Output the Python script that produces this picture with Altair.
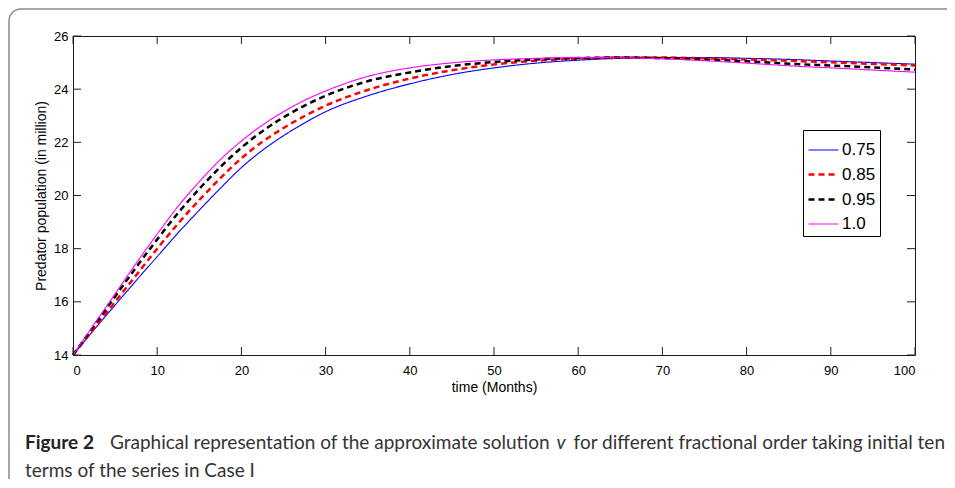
import altair as alt
import pandas as pd

# ---- data ----
t = [0, 2.5, 5, 7.5, 10, 12.5, 15, 17.5, 20, 22.5, 25, 27.5, 30, 35, 40, 45, 50,
     55, 60, 65, 70, 75, 80, 85, 90, 95, 100]
v_075 = [14, 14.95, 15.88, 16.8, 17.7, 18.6, 19.45, 20.27, 21.05, 21.7, 22.25, 22.73, 23.15,
         23.75, 24.2, 24.55, 24.8, 24.98, 25.09, 25.16, 25.19, 25.19, 25.16, 25.12, 25.06, 25.0, 24.94]
v_085 = [14, 15.0, 16.0, 17.0, 18.0, 18.95, 19.83, 20.65, 21.4, 22.02, 22.54, 22.99, 23.38,
         23.97, 24.4, 24.71, 24.93, 25.07, 25.15, 25.19, 25.19, 25.16, 25.12, 25.07, 25.01, 24.95, 24.89]
v_095 = [14, 15.1, 16.2, 17.3, 18.35, 19.35, 20.25, 21.07, 21.8, 22.42, 22.94, 23.38, 23.75,
         24.3, 24.63, 24.87, 25.02, 25.12, 25.17, 25.19, 25.17, 25.12, 25.05, 24.96, 24.89, 24.82, 24.74]
v_100 = [14, 15.15, 16.3, 17.45, 18.55, 19.6, 20.52, 21.35, 22.05, 22.65, 23.15, 23.58, 23.93,
         24.48, 24.8, 24.99, 25.1, 25.16, 25.19, 25.18, 25.14, 25.07, 24.98, 24.88, 24.8, 24.72, 24.64]

series = ["0.75", "0.85", "0.95", "1.0"]
colors = ["#0000ff", "#ff0000", "#000000", "#ff00ff"]
dashes = [[1, 0], [6, 4], [6, 4], [1, 0]]
widths = [1.1, 2.5, 2.5, 1.1]

x_ticks = [0, 10, 20, 30, 40, 50, 60, 70, 80, 90, 100]
y_ticks = [14, 16, 18, 20, 22, 24, 26]

x_title = "time (Months)"
y_title = "Predator population (in million)"
cap_bold = "Figure 2"
cap_a = "Graphical representation of the approximate solution"
cap_v = "v"
cap_b = "for different fractional order taking initial ten"
cap_2 = "terms of the series in Case I"

W, H = 842, 319

rows = []
for name, vals in zip(series, [v_075, v_085, v_095, v_100]):
    for tt, vv in zip(t, vals):
        rows.append({"t": tt, "v": vv, "s": name})
df = pd.DataFrame(rows)

xscale = alt.Scale(domain=[0, 100], nice=False, zero=False)
yscale = alt.Scale(domain=[14, 26], nice=False, zero=False)

lines = alt.Chart(df).mark_line(interpolate="monotone").encode(
    x=alt.X("t:Q", scale=xscale, title=x_title,
            axis=alt.Axis(values=x_ticks, format="d")),
    y=alt.Y("v:Q", scale=yscale, title=y_title,
            axis=alt.Axis(values=y_ticks, format="d")),
    color=alt.Color("s:N", scale=alt.Scale(domain=series, range=colors), title=None),
    strokeDash=alt.StrokeDash("s:N", scale=alt.Scale(domain=series, range=dashes), title=None),
    strokeWidth=alt.StrokeWidth("s:N", scale=alt.Scale(type="ordinal", domain=series, range=widths),
                                title=None),
    order=alt.Order("s:N"),
)

xt = pd.DataFrame({"tx": x_ticks})
yt = pd.DataFrame({"ty": y_ticks})
tick_col = "#222222"
bottom_ticks = alt.Chart(xt).mark_rule(color=tick_col, strokeWidth=1).encode(
    x=alt.X("tx:Q", scale=xscale, title=x_title), y=alt.value(H), y2=alt.value(H - 8))
top_ticks = alt.Chart(xt).mark_rule(color=tick_col, strokeWidth=1).encode(
    x=alt.X("tx:Q", scale=xscale, title=x_title), y=alt.value(0), y2=alt.value(8))
left_ticks = alt.Chart(yt).mark_rule(color=tick_col, strokeWidth=1).encode(
    y=alt.Y("ty:Q", scale=yscale, title=y_title), x=alt.value(0), x2=alt.value(8))
right_ticks = alt.Chart(yt).mark_rule(color=tick_col, strokeWidth=1).encode(
    y=alt.Y("ty:Q", scale=yscale, title=y_title), x=alt.value(W), x2=alt.value(W - 8))

border = alt.Chart(pd.DataFrame({"a": [0]})).mark_rect(
    cornerRadius=12, fillOpacity=0, stroke="#8a8a8a", strokeWidth=1.5
).encode(x=alt.value(-64), x2=alt.value(W + 60), y=alt.value(-27), y2=alt.value(H + 160))

cap_font = "Lato"
cap_size = 19
t1 = alt.Chart(pd.DataFrame({"a": [0]})).mark_text(
    text=cap_bold, font=cap_font, fontSize=cap_size, fontWeight="bold", color="#222222",
    align="left", baseline="alphabetic").encode(x=alt.value(-48), y=alt.value(413))
t2 = alt.Chart(pd.DataFrame({"a": [0]})).mark_text(
    text=cap_a, font=cap_font, fontSize=cap_size, color="#333333",
    align="left", baseline="alphabetic").encode(x=alt.value(37), y=alt.value(413))
t3 = alt.Chart(pd.DataFrame({"a": [0]})).mark_text(
    text=cap_v, font=cap_font, fontSize=cap_size, fontStyle="italic", color="#333333",
    align="center", baseline="alphabetic").encode(x=alt.value(488), y=alt.value(413))
t4 = alt.Chart(pd.DataFrame({"a": [0]})).mark_text(
    text=cap_b, font=cap_font, fontSize=cap_size, color="#333333",
    align="right", baseline="alphabetic").encode(x=alt.value(872), y=alt.value(413))
t5 = alt.Chart(pd.DataFrame({"a": [0]})).mark_text(
    text=cap_2, font=cap_font, fontSize=cap_size, color="#333333",
    align="left", baseline="alphabetic").encode(x=alt.value(-48), y=alt.value(440.5))

chart = alt.layer(
    border, lines, bottom_ticks, top_ticks, left_ticks, right_ticks, t1, t2, t3, t4, t5
).properties(
    width=W, height=H,
    autosize=alt.AutoSizeParams(type="none"),
    padding={"left": 65, "top": 28, "right": 32, "bottom": 124},
    background="white",
).configure_view(
    stroke="#1a1a1a", strokeWidth=1
).configure_axis(
    domain=False, ticks=False, tickSize=0, grid=False,
    labelFont="Liberation Sans", labelFontSize=13, labelColor="black",
    titleFont="Liberation Sans", titleFontSize=14, titleColor="black", titleFontWeight="normal",
).configure_axisX(
    labelPadding=9, titlePadding=3,
).configure_axisY(
    labelPadding=5, titlePadding=5,
).configure_legend(
    orient="none", legendX=730, legendY=94,
    strokeColor="black", fillColor="white", padding=4,
    symbolType="stroke", symbolSize=900, rowPadding=-5.5, labelOffset=2,
    labelFont="Liberation Sans", labelFontSize=17, labelColor="black",
)

chart.save("out.html", embed_options={"renderer": "svg", "actions": False})
